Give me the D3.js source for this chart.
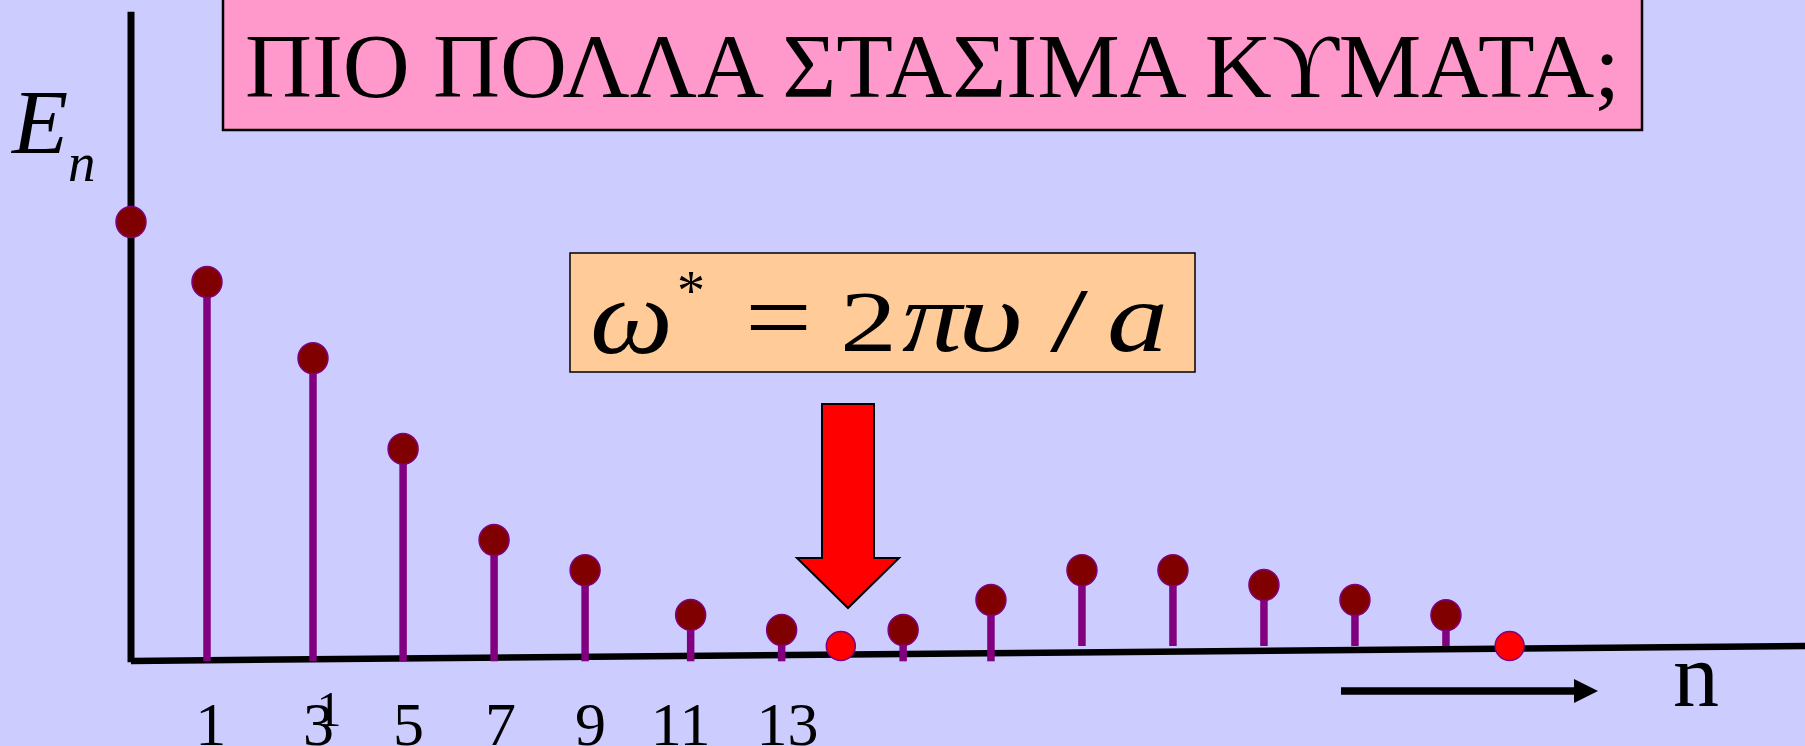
<!DOCTYPE html>
<html>
<head>
<meta charset="utf-8">
<script src="https://cdn.jsdelivr.net/npm/d3@7"></script>
<style>
  body { margin: 0; background: #ccccff; overflow: hidden; }
</style>
</head>
<body>
<div id="chart"></div>
<script>
// page size
var width = 1805, height = 746;

// horizontal position of each level (arbitrary units) and its energy
var levelPos = [0, 1.67, 4.0, 5.98, 7.98, 9.98, 12.3, 14.3, 15.6, 16.97, 18.9, 20.9, 22.9, 24.9, 26.9, 28.9, 30.3];
var levelE   = [100, 86.3, 68.9, 48.2, 27.4, 20.5, 10.3, 6.85, 3.2, 6.85, 13.7, 20.5, 20.5, 17.1, 13.7, 10.2, 3.2];
// where each stem stops at the bottom
var stemBase = [0, -0.3, -0.3, -0.3, -0.3, -0.3, -0.3, -0.3, 0, -0.3, -0.3, 3.2, 3.2, 3.2, 3.2, 3.2, 0];
// "axis" = sits on the E axis, "stem" = normal, "red" = highlighted node
var levelKind = ["axis", "stem", "stem", "stem", "stem", "stem", "stem", "stem", "red",
                 "stem", "stem", "stem", "stem", "stem", "stem", "stem", "red"];

// tick labels under the axis
var tickPos    = [1.74, 4.11, 6.09, 8.11, 10.09, 12.07, 14.42];
var tickLabels = ["1", "3", "5", "7", "9", "11", "13"];

// the slightly tilted baseline (start / end)
var basePos = [0, 36.8];
var baseE   = [-0.2, 3.2];
var axisTopE = 148;

var titleText = "ΠΙΟ ΠΟΛΛΑ ΣΤΑΣΙΜΑ ΚϒΜΑΤΑ;";

var x = d3.scaleLinear().domain([0, 40]).range([131, 131 + 40 * 45.5]);
var y = d3.scaleLinear().domain([0, 100]).range([660, 222]);

var svg = d3.select("#chart")
    .append("svg")
    .attr("width", width)
    .attr("height", height)
    .style("display", "block");

svg.append("rect")
    .attr("width", width).attr("height", height)
    .attr("fill", "#ccccff");

// title box
svg.append("rect")
    .attr("x", 223).attr("y", -3)
    .attr("width", 1419).attr("height", 133)
    .attr("fill", "#ff99cc")
    .attr("stroke", "#000").attr("stroke-width", 2.5);

svg.append("text")
    .attr("x", 245).attr("y", 97)
    .attr("font-family", "'Liberation Serif', 'Times New Roman', serif")
    .attr("font-size", 91)
    .attr("textLength", 1375)
    .attr("lengthAdjust", "spacingAndGlyphs")
    .text(titleText);

// axes
svg.append("line")
    .attr("x1", x(0)).attr("x2", x(0))
    .attr("y1", y(axisTopE)).attr("y2", y(-0.5))
    .attr("stroke", "#000").attr("stroke-width", 7);

svg.append("line")
    .attr("x1", x(basePos[0])).attr("y1", y(baseE[0]))
    .attr("x2", x(basePos[1])).attr("y2", y(baseE[1]))
    .attr("stroke", "#000").attr("stroke-width", 6.5);

var levels = levelPos.map(function(p, i) {
    return {pos: p, e: levelE[i], base: stemBase[i], kind: levelKind[i]};
});

// stems
svg.selectAll(".stem")
    .data(levels.filter(function(d) { return d.kind == "stem"; }))
    .enter()
    .append("line")
    .attr("class", "stem")
    .attr("x1", function(d) { return x(d.pos); })
    .attr("x2", function(d) { return x(d.pos); })
    .attr("y1", function(d) { return y(d.e); })
    .attr("y2", function(d) { return y(d.base); })
    .attr("stroke", "#800080")
    .attr("stroke-width", 7.5);

// dots
svg.selectAll(".dot")
    .data(levels)
    .enter()
    .append("ellipse")
    .attr("class", "dot")
    .attr("cx", function(d) { return x(d.pos); })
    .attr("cy", function(d) { return y(d.e); })
    .attr("rx", function(d) { return d.kind == "red" ? 14.5 : 15; })
    .attr("ry", function(d) { return d.kind == "red" ? 14.5 : 15.5; })
    .attr("fill", function(d) { return d.kind == "red" ? "#ff0000" : "#800000"; })
    .attr("stroke", "#800080")
    .attr("stroke-width", 1.5);

// tick labels
var xAxis = d3.axisBottom(x)
    .tickValues(tickPos)
    .tickFormat(function(d, i) { return tickLabels[i]; })
    .tickSize(0)
    .tickPadding(0);

var gx = svg.append("g")
    .attr("transform", "translate(0,701)")
    .call(xAxis);
gx.select(".domain").remove();
gx.attr("font-family", "'Liberation Serif', 'Times New Roman', serif")
    .attr("font-size", 62);
gx.selectAll("text").attr("fill", "#000");

// stray "1" sitting on the 3
svg.append("text")
    .attr("x", x(4.35)).attr("y", 726)
    .attr("text-anchor", "middle")
    .attr("font-family", "'Liberation Serif', 'Times New Roman', serif")
    .attr("font-size", 50)
    .text("1");

// E_n label
svg.append("text")
    .attr("x", 12).attr("y", 153)
    .attr("font-family", "'Liberation Serif', 'Times New Roman', serif")
    .attr("font-style", "italic")
    .attr("font-size", 92)
    .text("E");
svg.append("text")
    .attr("x", 68).attr("y", 181)
    .attr("font-family", "'Liberation Serif', 'Times New Roman', serif")
    .attr("font-style", "italic")
    .attr("font-size", 55)
    .text("n");

// n arrow
svg.append("line")
    .attr("x1", 1341).attr("x2", 1578)
    .attr("y1", 691).attr("y2", 691)
    .attr("stroke", "#000").attr("stroke-width", 7.5);
svg.append("path")
    .attr("d", "M1574,679 L1598,691 L1574,703 Z")
    .attr("fill", "#000");
svg.append("text")
    .attr("x", 1673).attr("y", 706)
    .attr("font-family", "'Liberation Serif', 'Times New Roman', serif")
    .attr("font-size", 92)
    .text("n");

// formula box
svg.append("rect")
    .attr("x", 570).attr("y", 253)
    .attr("width", 625).attr("height", 119)
    .attr("fill", "#ffcc99")
    .attr("stroke", "#000").attr("stroke-width", 1.5);

var formula = [
    {t: "ω", x: 590, y: 353, size: 108, it: true,  w: 83},
    {t: "*", x: 677, y: 310, size: 56,  it: false, w: 28},
    {t: "=", x: 745, y: 351, size: 100, it: false, w: 67},
    {t: "2", x: 840, y: 351, size: 86,  it: false, w: 57},
    {t: "π", x: 902, y: 351, size: 100, it: true,  w: 60},
    {t: "υ", x: 958, y: 351, size: 100, it: true,  w: 65},
    {t: "/", x: 1050, y: 351, size: 90, it: false, w: 38},
    {t: "a", x: 1107, y: 351, size: 100, it: true,  w: 61}
];
svg.selectAll(".formula")
    .data(formula)
    .enter()
    .append("text")
    .attr("class", "formula")
    .attr("x", function(d) { return d.x; })
    .attr("y", function(d) { return d.y; })
    .attr("font-family", "'Liberation Serif', 'Times New Roman', serif")
    .attr("font-style", function(d) { return d.it ? "italic" : "normal"; })
    .attr("font-size", function(d) { return d.size; })
    .attr("textLength", function(d) { return d.w; })
    .attr("lengthAdjust", "spacingAndGlyphs")
    .text(function(d) { return d.t; });

// big red arrow pointing at the node
svg.append("path")
    .attr("d", "M822,404 L874,404 L874,558 L899,558 L848,608 L797,558 L822,558 Z")
    .attr("fill", "#ff0000")
    .attr("stroke", "#000")
    .attr("stroke-width", 2);
</script>
</body>
</html>
